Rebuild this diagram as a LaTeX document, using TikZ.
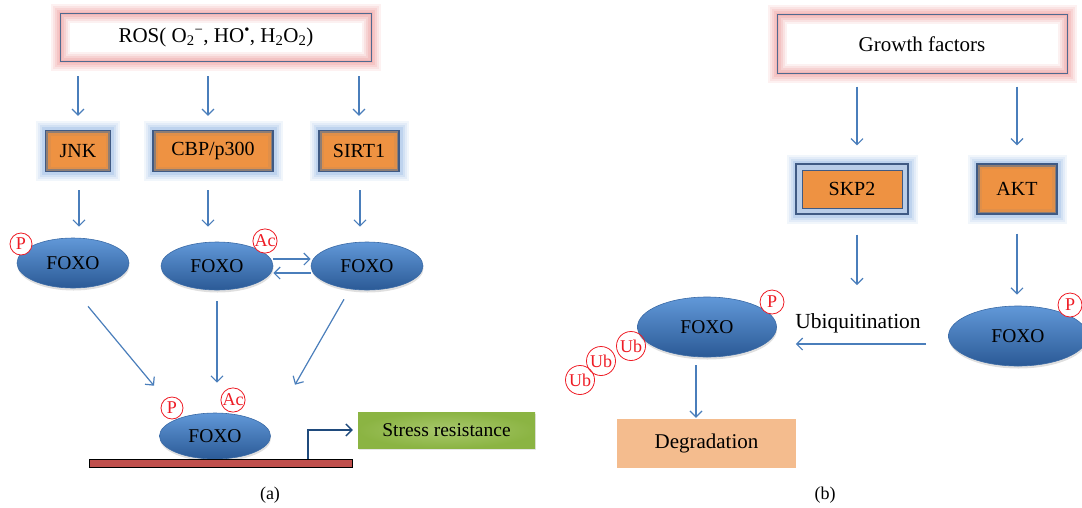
\documentclass[tikz,border=0pt]{standalone}
\usepackage{fontspec}
\setmainfont{Liberation Serif}
\usetikzlibrary{arrows.meta,shapes.geometric,shadows,calc}
\definecolor{arrowblue}{HTML}{4A7EBB}
\definecolor{foxotop}{HTML}{6198D8}
\definecolor{foxobot}{HTML}{2B5A96}
\definecolor{foxoline}{HTML}{3A6AA6}
\definecolor{orangefill}{HTML}{EE9242}
\definecolor{ringbrown}{HTML}{8E7D74}
\definecolor{navy}{HTML}{3F5A84}
\definecolor{glowblue}{HTML}{8FB3E2}
\definecolor{lightblue}{HTML}{B9CDE8}
\definecolor{pinkglow}{HTML}{EC8E8E}
\definecolor{sigborder}{HTML}{4F6A90}
\definecolor{greenin}{HTML}{A8C86C}
\definecolor{greenout}{HTML}{8BB443}
\definecolor{degfill}{HTML}{F4BC8E}
\definecolor{dnared}{HTML}{C0504D}
\definecolor{bentblue}{HTML}{1F4A7C}
\definecolor{modred}{HTML}{EE1C25}
\begin{document}
\begin{tikzpicture}[x=1pt,y=-1pt,
  arr/.style={draw=arrowblue, line width=1.2pt, -{Straight Barb[length=6pt,width=12pt]}},
  sigbox/.style={rectangle, fill=white, inner sep=0pt, font=\fontsize{21}{25}\selectfont,
    postaction={draw=pinkglow, line width=19pt, opacity=0.12},
    postaction={draw=pinkglow, line width=15pt, opacity=0.15},
    postaction={draw=pinkglow, line width=11pt, opacity=0.18},
    postaction={draw=pinkglow, line width=7pt, opacity=0.22},
    postaction={draw=pinkglow, line width=3pt, opacity=0.25},
    postaction={draw=sigborder, line width=0.9pt}},
  glow/.style={
    preaction={draw=glowblue, line width=19pt, opacity=0.12},
    preaction={draw=glowblue, line width=15pt, opacity=0.15},
    preaction={draw=glowblue, line width=11pt, opacity=0.2},
    preaction={draw=glowblue, line width=7pt, opacity=0.3}},
  kinbox/.style={rectangle, inner sep=0pt, font=\fontsize{20}{24}\selectfont, fill=ringbrown, glow,
    path picture={
      \fill[orangefill!85!ringbrown] ($(path picture bounding box.south west)+(2.5pt,2.5pt)$) rectangle ($(path picture bounding box.north east)+(-2.5pt,-2.5pt)$);
      \fill[orangefill] ($(path picture bounding box.south west)+(5pt,5pt)$) rectangle ($(path picture bounding box.north east)+(-5pt,-5pt)$);},
    draw=navy, line width=1.3pt},
  skpbox/.style={rectangle, inner sep=0pt, font=\fontsize{20}{24}\selectfont, fill=lightblue, glow,
    path picture={\filldraw[fill=orangefill, draw=navy, line width=0.9pt] ($(path picture bounding box.south west)+(6pt,6pt)$) rectangle ($(path picture bounding box.north east)+(-6pt,-6pt)$);},
    draw=navy, line width=1.1pt},
  foxo/.style={ellipse, inner sep=0pt, top color=foxotop, bottom color=foxobot, draw=foxoline, line width=0.6pt,
    font=\fontsize{19.5}{22}\selectfont,
    drop shadow={shadow xshift=0.5pt, shadow yshift=-2.5pt, opacity=0.25}},
  modc/.style={circle, draw=modred, text=modred, line width=0.8pt, inner sep=0pt, fill=white,
    font=\fontsize{18}{18}\selectfont},
  ubc/.style={circle, draw=modred, text=modred, line width=0.8pt, inner sep=0pt, minimum size=29pt,
    font=\fontsize{18}{18}\selectfont},
  lbl/.style={font=\fontsize{18}{20}\selectfont, inner sep=0pt}
]
\useasboundingbox (0,0) rectangle (1082,507);

% ---------- Panel (a) ----------
\node[sigbox, minimum width=311pt, minimum height=48pt] (ros) at (216,37)
  {ROS( O\textsubscript{2}\textsuperscript{−}, HO\textsuperscript{\textbullet}, H\textsubscript{2}O\textsubscript{2})};

\node[kinbox, minimum width=65pt, minimum height=41pt] (jnk) at (78,151) {JNK};
\node[kinbox, minimum width=120pt, minimum height=41pt] (cbp) at (213,151) {CBP/p300};
\node[kinbox, minimum width=80pt, minimum height=41pt] (sirt) at (359,151) {SIRT1};

\node[foxo, minimum width=112pt, minimum height=50pt] (fa1) at (73,263) {FOXO};
\node[foxo, minimum width=112pt, minimum height=48pt] (fa2) at (217,266) {FOXO};
\node[foxo, minimum width=112pt, minimum height=48pt] (fa3) at (367,266) {FOXO};

\node[modc, minimum size=22pt] (pa1) at (21,244) {P};
\node[modc, minimum size=24pt] (aca2) at (265,241) {Ac};

\node[foxo, minimum width=111pt, minimum height=46pt] (fa4) at (215,436) {FOXO};
\node[rectangle, fill=dnared, draw=black, line width=0.8pt, inner sep=0pt,
      minimum width=263pt, minimum height=8pt] (dna) at (220.5,463) {};
\node[modc, minimum size=22pt] (pa4) at (172,408) {P};
\node[modc, minimum size=24pt] (aca4) at (233,400) {Ac};

\node[rectangle, inner sep=0pt, minimum width=177pt, minimum height=36pt,
      inner color=greenin, outer color=greenout,
      drop shadow={shadow xshift=0.8pt, shadow yshift=-1.5pt, opacity=0.2},
      font=\fontsize{19.5}{22}\selectfont] (stress) at (446.5,430) {Stress resistance};

\coordinate (tss) at (308,459);
\draw[draw=bentblue, line width=1.3pt, -{Straight Barb[length=6pt,width=12pt]}, shorten >=5pt]
  (tss) |- (stress.west);

% arrows panel (a)
\draw[arr] ([yshift=-15pt]ros.south -| jnk.north) -- ([yshift=14pt]jnk.north);
\draw[arr] ([xshift=-5pt,yshift=-15pt]ros.south -| cbp.north) -- ([xshift=-5pt,yshift=14pt]cbp.north);
\draw[arr] ([yshift=-15pt]ros.south -| sirt.north) -- ([yshift=14pt]sirt.north);

\draw[arr] ([xshift=1pt,yshift=-18pt]jnk.south) -- ([xshift=1pt,yshift=11pt]jnk.south |- fa1.north);
\draw[arr] ([xshift=-5pt,yshift=-18pt]cbp.south) -- ([xshift=-5pt,yshift=15pt]cbp.south |- fa2.north);
\draw[arr] ([xshift=1pt,yshift=-18pt]sirt.south) -- ([xshift=1pt,yshift=15pt]sirt.south |- fa3.north);

\draw[arr] ([yshift=7pt]fa2.east) -- ([yshift=7pt]fa3.west);
\draw[arr] ([yshift=-7pt]fa3.west) -- ([yshift=-7pt]fa2.east);

\draw[arr] ([xshift=15pt,yshift=-18pt]fa1.south) -- ([xshift=-61pt,yshift=27pt]fa4.north);
\draw[arr] ([yshift=-11pt]fa2.south) -- ([yshift=30pt]fa2.south |- fa4.north);
\draw[arr] ([xshift=-23pt,yshift=-9pt]fa3.south) -- ([xshift=80pt,yshift=28pt]fa4.north);

\node[lbl] (lbla) at (270,495) {(a)};

% ---------- Panel (b) ----------
\node[sigbox, minimum width=290pt, minimum height=59pt] (gf) at (922,44) {Growth factors};

\node[skpbox, minimum width=112pt, minimum height=50pt] (skp) at (852,189) {SKP2};
\node[kinbox, minimum width=80pt, minimum height=50pt] (akt) at (1017,189) {AKT};

\node[foxo, minimum width=139pt, minimum height=60pt] (fb1) at (707,327) {FOXO};
\node[foxo, minimum width=139pt, minimum height=60pt] (fb2) at (1018,336) {FOXO};

\node[modc, minimum size=24pt] (pb1) at (772,302) {P};
\node[modc, minimum size=24pt] (pb2) at (1070,305) {P};
\node[ubc] (ub1) at (631,346) {Ub};
\node[ubc] (ub2) at (601,361) {Ub};
\node[ubc] (ub3) at (580,380) {Ub};

\node[font=\fontsize{21.5}{24}\selectfont, inner sep=0pt] (ubq) at (858,323) {Ubiquitination};

\node[rectangle, fill=degfill, inner sep=0pt, minimum width=179pt, minimum height=49pt,
      font=\fontsize{21}{24}\selectfont] (degr) at (706.5,443.5) {Degradation};

\draw[arr] ([xshift=-65pt,yshift=-13pt]gf.south) -- ([xshift=5pt,yshift=18pt]skp.north);
\draw[arr] ([xshift=95pt,yshift=-13pt]gf.south) -- ([yshift=18pt]akt.north);
\draw[arr] ([xshift=5pt,yshift=-20pt]skp.south) -- ([xshift=-1pt,yshift=28pt]ubq.north);
\draw[arr] ([yshift=-19pt]akt.south) -- ([xshift=-1pt,yshift=11pt]fb2.north);
\draw[arr] ([xshift=-22pt,yshift=-8pt]fb2.west) -- ([xshift=19pt]fb1.east |- 0,344);
\draw[arr] ([xshift=-11pt,yshift=-8pt]fb1.south) -- ([xshift=-11pt,yshift=1pt]fb1.south |- degr.north);

\node[lbl] (lblb) at (825,495) {(b)};
\end{tikzpicture}
\end{document}
